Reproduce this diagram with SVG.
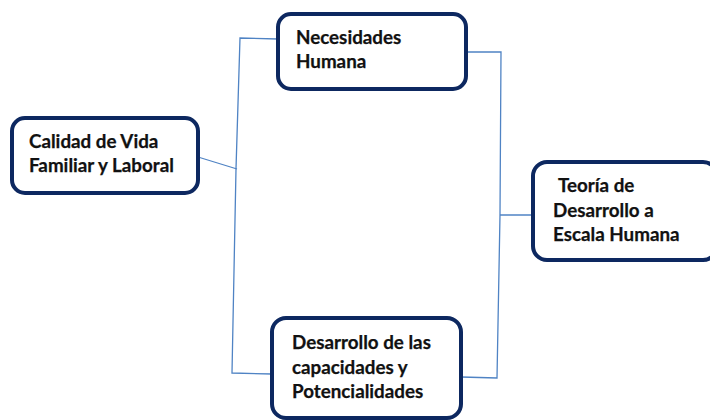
<svg xmlns="http://www.w3.org/2000/svg" width="710" height="420" viewBox="0 0 710 420">
<style>
.box{fill:#fff;stroke:#0d2860;stroke-width:4}
.lbl{font-family:Lato,"Liberation Sans",sans-serif;font-weight:bold;font-size:18.8px;fill:#111;stroke:#111;stroke-width:0.25}
.con{fill:none;stroke:#4f83c4;stroke-width:1.3}
</style>
<rect width="710" height="420" fill="#fff"/>
<g id="connectors">
<polyline class="con" points="198,157 237,169"/>
<polyline class="con" points="278,39 240,38 236,169 232,373 272,374"/>
<polyline class="con" points="466,52 501,52 500,215 497,378 461,377"/>
<polyline class="con" points="500,215 533,215"/>
</g>
<g id="n-calidad">
<rect class="box" x="12" y="118" width="186" height="75" rx="13"/>
<text class="lbl" x="29" y="148">Calidad de Vida</text>
<text class="lbl" x="29" y="172">Familiar y Laboral</text>
</g>
<g id="n-necesidades">
<rect class="box" x="278" y="14" width="188" height="75" rx="13"/>
<text class="lbl" x="296" y="44">Necesidades</text>
<text class="lbl" x="296" y="68">Humana</text>
</g>
<g id="n-teoria">
<rect class="box" x="533" y="162" width="184" height="98" rx="14"/>
<text class="lbl" x="558" y="192">Teoría de</text>
<text class="lbl" x="553" y="217">Desarrollo a</text>
<text class="lbl" x="553" y="241">Escala Humana</text>
</g>
<g id="n-desarrollo">
<rect class="box" x="272" y="318" width="189" height="100" rx="14"/>
<text class="lbl" x="292" y="349">Desarrollo de las</text>
<text class="lbl" x="292" y="374">capacidades y</text>
<text class="lbl" x="292" y="398">Potencialidades</text>
</g>
</svg>
